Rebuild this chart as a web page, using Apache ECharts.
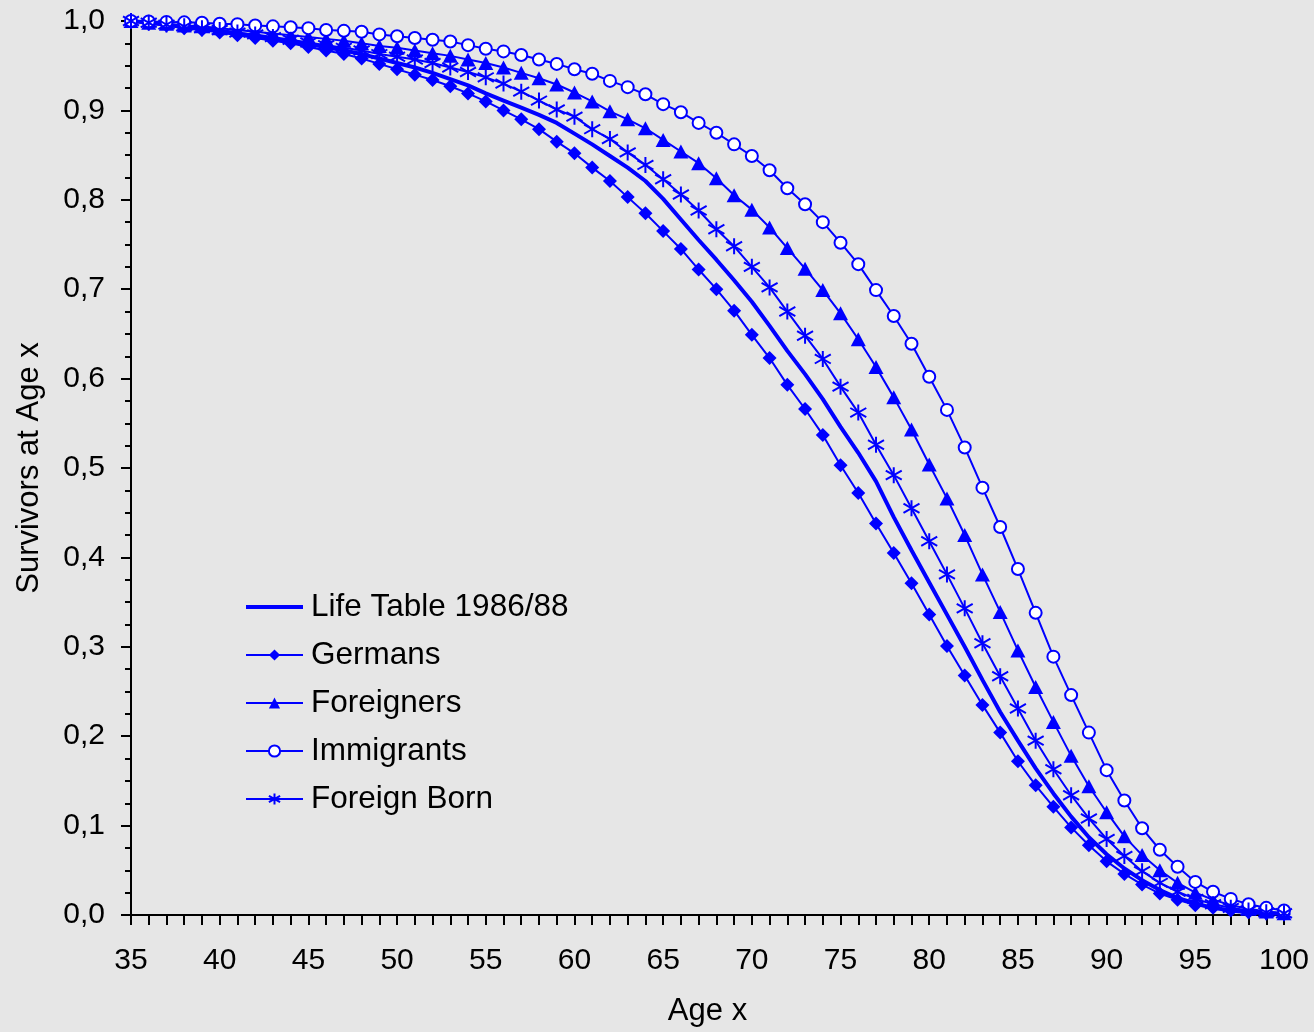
<!DOCTYPE html>
<html>
<head>
<meta charset="utf-8">
<script src="https://cdn.jsdelivr.net/npm/echarts@6/dist/echarts.min.js"></script>
<style>
html,body{margin:0;padding:0;background:#e6e6e6;overflow:hidden;}
#chart{width:1314px;height:1032px;}
</style>
</head>
<body>
<div id="chart"></div>
<script>
const ages = [];
for (let a = 35; a <= 100; a++) ages.push(a);

const lifeTable = [1.000,0.998,0.996,0.993,0.991,0.989,0.986,0.983,0.980,0.977,0.974,0.971,0.967,0.963,0.958,0.953,0.948,0.942,0.935,0.928,0.919,0.911,0.903,0.895,0.886,0.874,0.862,0.849,0.836,0.821,0.801,0.778,0.755,0.733,0.710,0.686,0.659,0.631,0.605,0.577,0.546,0.517,0.485,0.445,0.408,0.372,0.336,0.300,0.263,0.227,0.195,0.164,0.136,0.110,0.087,0.068,0.052,0.039,0.028,0.019,0.013,0.008,0.005,0.003,0.002,0.001];
const germans = [1.000,0.997,0.995,0.992,0.990,0.987,0.984,0.981,0.978,0.975,0.971,0.967,0.963,0.958,0.952,0.946,0.940,0.934,0.927,0.919,0.910,0.900,0.890,0.879,0.865,0.852,0.836,0.821,0.803,0.785,0.765,0.745,0.722,0.700,0.676,0.649,0.623,0.593,0.566,0.537,0.503,0.472,0.438,0.405,0.371,0.336,0.301,0.268,0.235,0.204,0.172,0.145,0.121,0.098,0.078,0.060,0.046,0.034,0.024,0.017,0.011,0.008,0.005,0.003,0.002,0.001];
const foreigners = [1.000,0.998,0.997,0.995,0.994,0.992,0.990,0.988,0.986,0.984,0.982,0.980,0.978,0.975,0.972,0.970,0.967,0.964,0.961,0.957,0.953,0.948,0.942,0.936,0.929,0.920,0.910,0.899,0.890,0.880,0.867,0.854,0.841,0.824,0.805,0.789,0.769,0.746,0.723,0.699,0.673,0.644,0.613,0.579,0.543,0.504,0.466,0.425,0.381,0.339,0.296,0.255,0.216,0.178,0.144,0.115,0.088,0.067,0.050,0.036,0.025,0.017,0.011,0.007,0.004,0.002];
const immigrants = [1.000,0.9995,0.999,0.9985,0.998,0.997,0.9965,0.995,0.994,0.993,0.992,0.990,0.989,0.988,0.985,0.983,0.981,0.979,0.977,0.973,0.969,0.966,0.962,0.957,0.952,0.946,0.941,0.933,0.926,0.918,0.907,0.898,0.886,0.875,0.862,0.849,0.833,0.813,0.795,0.775,0.752,0.728,0.699,0.670,0.639,0.602,0.565,0.523,0.478,0.434,0.387,0.338,0.289,0.246,0.204,0.162,0.128,0.097,0.073,0.054,0.037,0.026,0.018,0.012,0.008,0.005];
const foreignBorn = [1.000,0.998,0.996,0.994,0.992,0.990,0.987,0.985,0.982,0.979,0.976,0.973,0.970,0.967,0.963,0.960,0.957,0.953,0.948,0.943,0.937,0.930,0.921,0.911,0.901,0.893,0.879,0.868,0.853,0.839,0.823,0.806,0.788,0.767,0.748,0.725,0.702,0.675,0.648,0.622,0.591,0.562,0.526,0.492,0.455,0.418,0.381,0.343,0.304,0.267,0.231,0.195,0.163,0.134,0.108,0.085,0.066,0.049,0.036,0.026,0.018,0.012,0.008,0.005,0.003,0.002];

const seriesNames = ['Life Table 1986/88','Germans','Foreigners','Immigrants','Foreign Born'];
const xTitle = 'Age x';
const yTitle = 'Survivors at Age x';

const BLUE = '#0000ff';
const FONT = '"Liberation Sans", Arial, sans-serif';
const pairs = arr => ages.map((a, i) => [a, arr[i]]);
const asterisk = 'path://M7,0 L7,14 M0,3 L14,11 M0,11 L14,3';
const thickLineIcon = 'path://M0,0 M0,14 M0,5 L57,5 L57,9 L0,9 Z';

const chart = echarts.init(document.getElementById('chart'), null, {renderer: 'canvas'});
chart.setOption({
  backgroundColor: '#e6e6e6',
  animation: false,
  textStyle: {fontFamily: FONT, color: '#000'},
  grid: {left: 131, right: 30, top: 21, bottom: 117, containLabel: false, outerBoundsMode: 'none'},
  legend: {
    orient: 'vertical',
    left: 240,
    top: 586,
    itemWidth: 57,
    itemHeight: 14,
    itemGap: 16,
    textStyle: {fontFamily: FONT, fontSize: 31.5, color: '#000', lineHeight: 32, padding: [0, 0, 0, 3]},
    data: [
      {name: seriesNames[0], icon: thickLineIcon},
      seriesNames[1], seriesNames[2], seriesNames[3], seriesNames[4]
    ]
  },
  xAxis: {
    type: 'value', min: 35, max: 100, interval: 1,
    name: xTitle, nameLocation: 'middle', nameGap: 81,
    nameTextStyle: {fontFamily: FONT, fontSize: 31, color: '#000'},
    axisLine: {show: true, onZero: false, lineStyle: {color: '#000', width: 2}},
    axisTick: {show: true, length: 10, inside: false, lineStyle: {color: '#000', width: 2}},
    axisLabel: {
      fontFamily: FONT, fontSize: 30, color: '#000', margin: 31,
      formatter: v => (Math.round(v) % 5 === 0 ? String(Math.round(v)) : '')
    },
    splitLine: {show: false}
  },
  yAxis: {
    type: 'value', min: 0, max: 1, interval: 0.1,
    name: yTitle, nameLocation: 'middle', nameGap: 86, nameRotate: 90,
    nameTextStyle: {fontFamily: FONT, fontSize: 31, color: '#000'},
    axisLine: {show: true, lineStyle: {color: '#000', width: 2}},
    axisTick: {show: true, length: 10, inside: false, lineStyle: {color: '#000', width: 2}},
    minorTick: {show: true, splitNumber: 4, length: 6, lineStyle: {color: '#000', width: 2}},
    axisLabel: {
      fontFamily: FONT, fontSize: 30, color: '#000', margin: 26,
      formatter: v => v.toFixed(1).replace('.', ',')
    },
    splitLine: {show: false},
    minorSplitLine: {show: false}
  },
  series: [
    {
      name: seriesNames[0], type: 'line', data: pairs(lifeTable),
      symbol: 'none', showSymbol: false, clip: false, z: 2,
      lineStyle: {color: BLUE, width: 4}, itemStyle: {color: BLUE}
    },
    {
      name: seriesNames[1], type: 'line', data: pairs(germans),
      symbol: 'diamond', symbolSize: 14, clip: false, z: 3,
      lineStyle: {color: BLUE, width: 2}, itemStyle: {color: BLUE}
    },
    {
      name: seriesNames[2], type: 'line', data: pairs(foreigners),
      symbol: 'triangle', symbolSize: [15, 14], clip: false, z: 3,
      lineStyle: {color: BLUE, width: 2}, itemStyle: {color: BLUE}
    },
    {
      name: seriesNames[3], type: 'line', data: pairs(immigrants),
      symbol: 'circle', symbolSize: 12, clip: false, z: 3,
      lineStyle: {color: BLUE, width: 2}, itemStyle: {color: '#ffffff', borderColor: BLUE, borderWidth: 2}
    },
    {
      name: seriesNames[4], type: 'line', data: pairs(foreignBorn),
      symbol: asterisk, symbolSize: 16, clip: false, z: 3,
      lineStyle: {color: BLUE, width: 2}, itemStyle: {color: BLUE, borderColor: BLUE, borderWidth: 2}
    }
  ]
});
</script>
</body>
</html>
